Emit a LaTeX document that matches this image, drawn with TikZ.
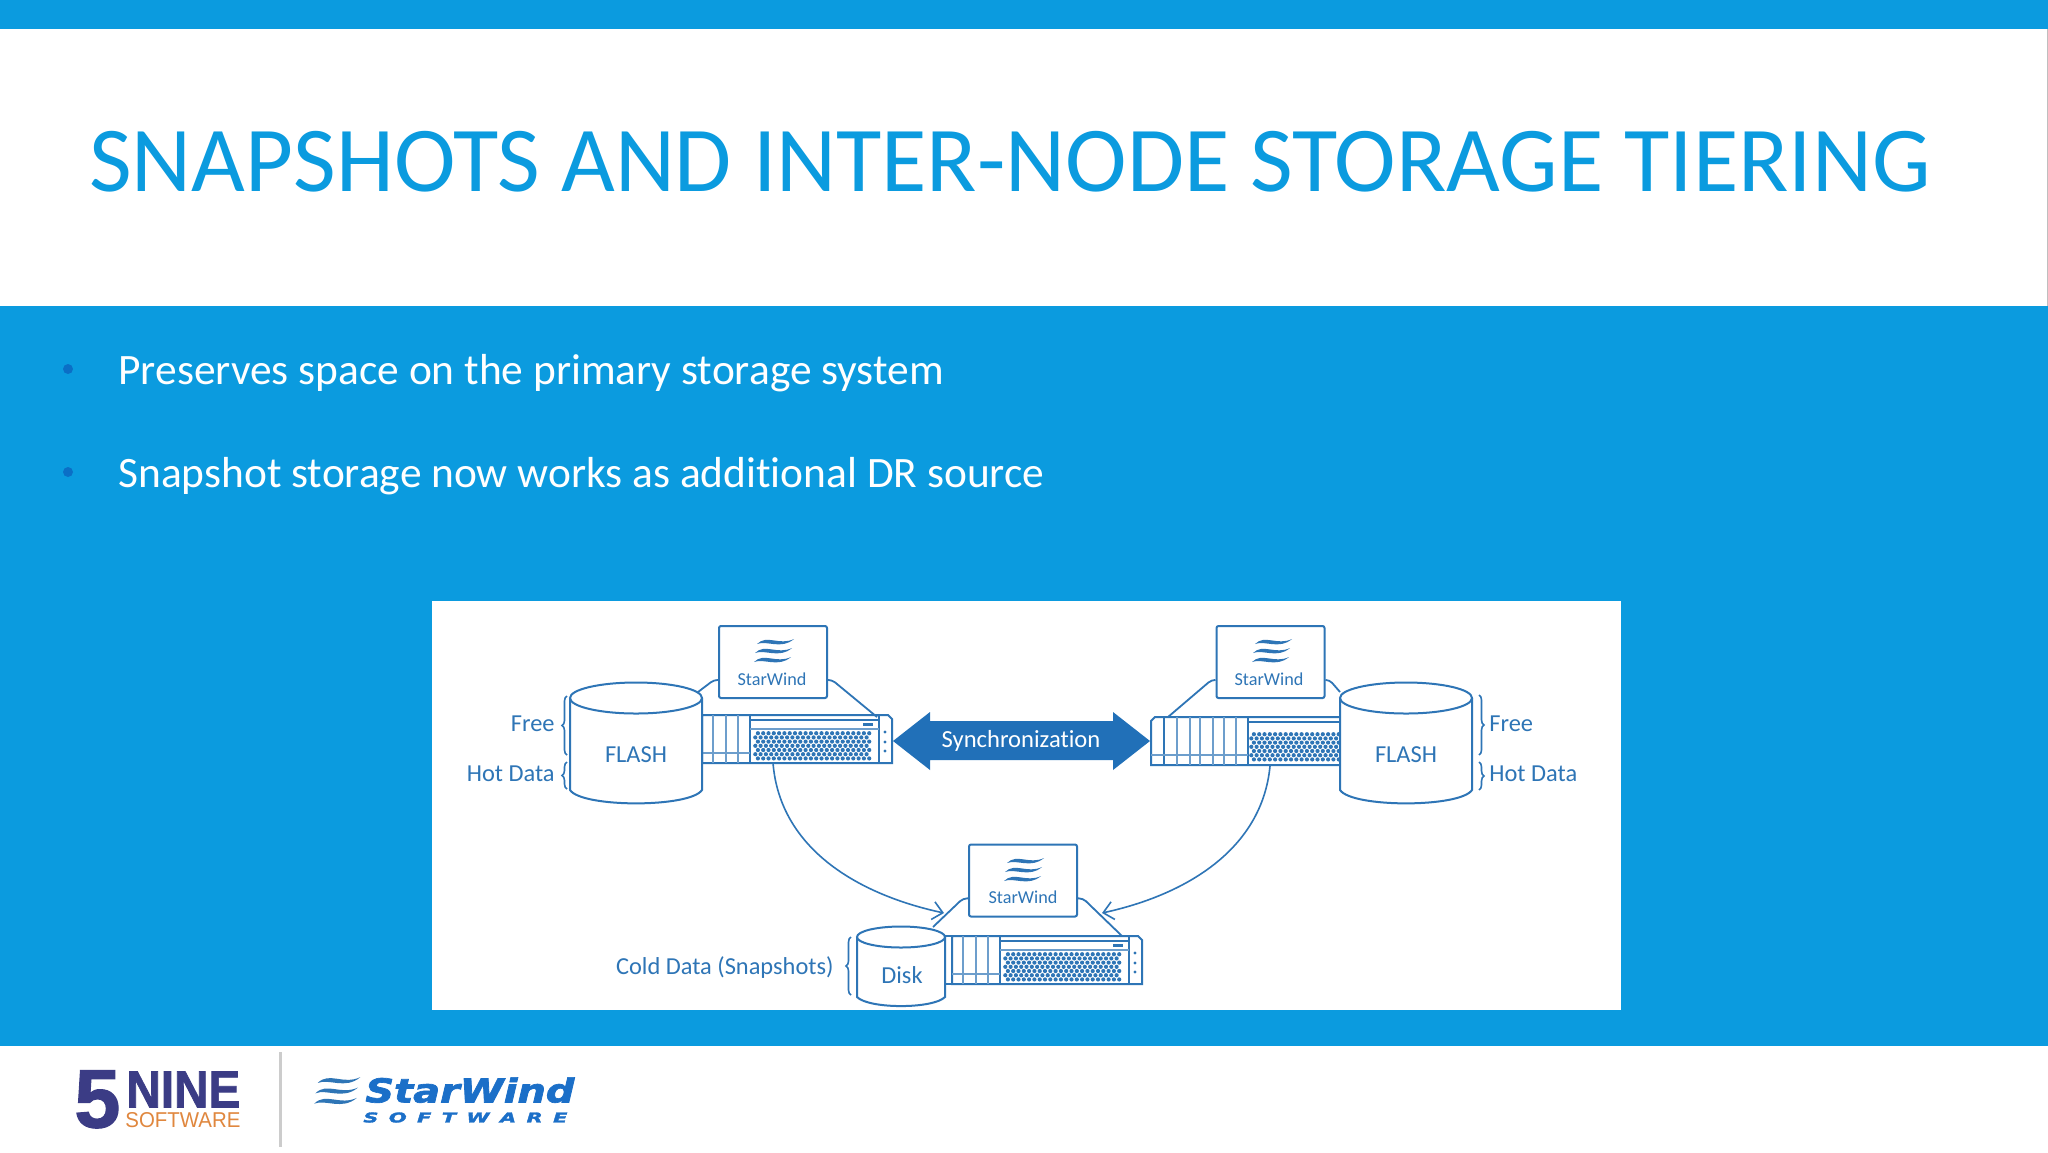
\documentclass[tikz,border=0pt]{standalone}
\usepackage{fontspec}
\setmainfont{Carlito}[Ligatures=NoCommon]
\newfontfamily\logosans{Liberation Sans}[BoldFeatures={FakeBold=1.5}]
\newfontfamily\logowide{DejaVu Sans}[BoldItalicFeatures={FakeBold=2}]
\usetikzlibrary{arrows.meta,calc,decorations.pathreplacing}

\definecolor{slideblue}{HTML}{0B9BDF}
\definecolor{bulletblue}{HTML}{0B6FC6}
\definecolor{diagblue}{HTML}{2E75B6}
\definecolor{syncblue}{HTML}{2170B8}
\definecolor{ninenavy}{HTML}{3B3C85}
\definecolor{nineorange}{HTML}{E0873E}
\definecolor{swblue}{HTML}{1B6FC8}

\tikzset{
	title text/.style={anchor=base west, text=slideblue, font=\fontsize{46.4}{50}\selectfont},
	body text/.style={anchor=base west, text=white, font=\fontsize{21.7}{25}\selectfont},
	diag text/.style={text=diagblue, inner sep=0pt, font=\fontsize{12.2}{14}\selectfont},
	bullet/.style={fill=bulletblue, draw=none},
	hw/.style={draw=diagblue, line width=1pt},
	hw thin/.style={draw=diagblue!70, line width=0.7pt},
	sw box/.style={draw=diagblue, line width=1pt, fill=white, rounded corners=1pt, minimum width=54pt, minimum height=36pt, inner sep=0pt},
	lead/.style={draw=diagblue, line width=0.9pt, rounded corners=2pt},
	flow/.style={draw=diagblue, line width=0.8pt, -{Straight Barb[length=5pt,width=9pt]}},
	curly/.style={draw=diagblue, line width=0.8pt, decorate, decoration={brace,amplitude=2.5pt}},
	pics/waves/.style={code={
		\foreach \wx/\wy in {3/0, 1/9, 0/18}
			\fill[diagblue] (\wx+2,\wy+6) .. controls (\wx+12,\wy-4) and (\wx+24,\wy+8) .. (\wx+39,\wy+1)
				.. controls (\wx+26,\wy+12) and (\wx+12,\wy+2) .. cycle;
	}},
	pics/server/.style={code={
		\draw[hw] (0,0) -- (186,0) -- (190,4) -- (190,48) -- (0,48) -- cycle;
		\draw[hw] (48,0) -- (48,48);
		\draw[hw] (177,0) -- (177,48);
		\draw[hw] (48,5) -- (177,5);
		\draw[hw thin] (48,14) -- (177,14);
		\draw[hw thin] (0,38) -- (48,38);
		\foreach \sx in {11,24,36}
			\draw[hw thin] (\sx,0) -- (\sx,48);
		\fill[diagblue] (161,8) rectangle (171,11);
		\foreach \dy in {17,27,36}
			\fill[diagblue] (183,\dy) circle [radius=1.7];
		\grille{48}{14}{22}{7}
	}},
}

% dotted front of a server
\newcommand{\grille}[4]{
	\foreach \gr in {1,...,#4}
		\foreach \gc in {1,...,#3}
			\fill[diagblue] ({#1+\gc*5.3+mod(\gr,2)*2.6},{#2+\gr*4.2}) circle [radius=2.1];
}

% storage drum: left, right, top centre, side bottom, top radius
\newcommand{\drum}[5]{
	\fill[white] (#1,#3) -- (#1,#4) .. controls (#1+12,#4+#5*1.15) and (#2-12,#4+#5*1.15) .. (#2,#4) -- (#2,#3) -- cycle;
	\draw[hw] (#1,#3) -- (#1,#4) .. controls (#1+12,#4+#5*1.15) and (#2-12,#4+#5*1.15) .. (#2,#4) -- (#2,#3);
	\draw[hw, fill=white] ({(#1+#2)/2},#3) ellipse [x radius={(#2-#1)/2}, y radius=#5];
}

\begin{document}
\begin{tikzpicture}[x=0.5pt, y=-0.5pt]
	\useasboundingbox (0,0) rectangle (2048,1152);

	% slide
	\fill[white] (0,0) rectangle (2048,1152);
	\fill[slideblue] (0,0) rectangle (2048,29);
	\fill[slideblue] (0,306) rectangle (2048,1046);
	\draw[gray!50, line width=0.5pt] (2047.5,29) -- (2047.5,306);

	\node[title text, inner sep=0pt] (title) at (89,191) {SNAPSHOTS AND INTER-NODE STORAGE TIERING};

	\fill[bullet] (68,369) circle [radius=5];
	\fill[bullet] (68,472) circle [radius=5];
	\node[body text, inner sep=0pt] (point1) at (118,384.5) {Preserves space on the primary storage system};
	\node[body text, inner sep=0pt] (point2) at (118,487.5) {Snapshot storage now works as additional DR source};

	% diagram
	\fill[white] (432,601) rectangle (1621,1010);

	\pic at (702,715) {server};
	\pic at (952,936) {server};
	\draw[hw] (945,936) -- (952,936);
	\draw[hw] (945,984) -- (952,984);

	% right server runs the other way
	\draw[hw] (1151,721) -- (1155,717) -- (1345,717) -- (1345,765) -- (1151,765) -- cycle;
	\draw[hw] (1164,717) -- (1164,765);
	\draw[hw] (1248,717) -- (1248,765);
	\draw[hw] (1248,722) -- (1345,722);
	\draw[hw thin] (1151,755) -- (1248,755);
	\foreach \sx in {1177,1190,1200,1213,1224,1236}
		\draw[hw thin] (\sx,717) -- (\sx,765);
	\grille{1246}{730}{17}{7}

	\drum{570}{702}{698}{790}{15.5}
	\drum{1340}{1472}{698}{790}{15.5}
	\drum{857}{945}{937}{997}{10.5}

	\node[diag text] (flashL) at (636,755) {FLASH};
	\node[diag text] (flashR) at (1406,755) {FLASH};
	\node[diag text] (disk) at (902,975) {Disk};

	\node[sw box] (boxL) at (773,662) {};
	\node[sw box] (boxR) at (1270.5,662) {};
	\node[sw box] (boxB) at (1023,880.5) {};
	\pic at (752,638) {waves};
	\pic at (1250,638) {waves};
	\pic at (1002,857) {waves};
	\node[diag text, font=\fontsize{9.1}{11}\selectfont] (swL) at (772,679) {StarWind};
	\node[diag text, font=\fontsize{9.1}{11}\selectfont] (swR) at (1269,679) {StarWind};
	\node[diag text, font=\fontsize{9.1}{11}\selectfont] (swB) at (1023,897) {StarWind};

	\coordinate (drumLtop) at (698,692);
	\coordinate (srvLtop) at (877,717);
	\coordinate (srvRtop) at (1168,717);
	\coordinate (drumRtop) at (1340,692);
	\coordinate (diskTop) at (933,927);
	\coordinate (srvBtop) at (1122,936);

	\draw[lead] (boxL.198) -- ++(-4,0) -- (drumLtop);
	\draw[lead] (boxL.-18) -- ++(4,0) -- (srvLtop);
	\draw[lead] (boxR.198) -- ++(-4,0) -- (srvRtop);
	\draw[lead] (boxR.-18) -- ++(4,0) -- (drumRtop);
	\draw[lead] (boxB.198) -- ++(-5,0) -- (diskTop);
	\draw[lead] (boxB.-18) -- ++(5,0) -- (srvBtop);

	% synchronization arrow
	\fill[syncblue] (893,741) -- (930,712) -- (930,721) -- (1113,721) -- (1113,712) -- (1150,741)
		-- (1113,770) -- (1113,760) -- (930,760) -- (930,770) -- cycle;
	\node[text=white, inner sep=0pt, font=\fontsize{12.3}{14}\selectfont] (sync) at (1021,741) {Synchronization};

	% tiering curves
	\coordinate (srvLout) at (773,763);
	\coordinate (srvRout) at (1270,766);
	\coordinate (srvBinL) at (944,913);
	\coordinate (srvBinR) at (1102,913);
	\draw[flow] (srvLout) .. controls (780,850) and (860,895) .. (srvBinL);
	\draw[flow] (srvRout) .. controls (1262,850) and (1185,895) .. (srvBinR);

	% labels with braces
	\coordinate (freeLa) at (567,755);
	\coordinate (freeLb) at (567,696);
	\coordinate (hotLa) at (567,789);
	\coordinate (hotLb) at (567,762);
	\coordinate (freeRa) at (1479,695);
	\coordinate (freeRb) at (1479,755);
	\coordinate (hotRa) at (1479,762);
	\coordinate (hotRb) at (1479,790);
	\coordinate (coldA) at (851,995);
	\coordinate (coldB) at (851,937);
	\draw[curly] (freeLa) -- (freeLb);
	\draw[curly] (hotLa) -- (hotLb);
	\draw[curly] (freeRa) -- (freeRb);
	\draw[curly] (hotRa) -- (hotRb);
	\draw[curly] (coldA) -- (coldB);

	\node[diag text, anchor=east] (freeLtxt) at (555,724) {Free};
	\node[diag text, anchor=east] (hotLtxt) at (555,774) {Hot Data};
	\node[diag text, anchor=west] (freeRtxt) at (1489,724) {Free};
	\node[diag text, anchor=west] (hotRtxt) at (1489,774) {Hot Data};
	\node[diag text, anchor=east] (coldtxt) at (834,968) {Cold Data (Snapshots)};

	% footer logos
	\draw[gray!40, line width=1.5pt] (280,1052) -- (280,1147);
	\node[anchor=north west, inner sep=0pt, text=ninenavy] (five) at (74,1070)
		{\resizebox{23pt}{28.5pt}{\logosans\bfseries 5}};
	\node[anchor=north west, inner sep=0pt, text=ninenavy] (nine) at (126,1071)
		{\resizebox{57pt}{18pt}{\logosans\bfseries NINE}};
	\node[anchor=north west, inner sep=0pt, text=nineorange] (ninesoft) at (125,1112)
		{\resizebox{57.5pt}{7.5pt}{\logosans SOFTWARE}};
	\pic[scale=1.15] at (312,1076) {waves};
	\node[anchor=north west, inner sep=0pt, text=swblue] (swlogo) at (365,1077)
		{\resizebox{104.5pt}{12.5pt}{\logowide\bfseries\itshape StarWind}};
	\node[anchor=north west, inner sep=0pt, text=swblue] (swsoft) at (363,1112)
		{\resizebox{102pt}{5pt}{\logowide\bfseries\itshape S\,\,\,O\,\,\,F\,\,\,T\,\,\,W\,\,\,A\,\,\,R\,\,\,E}};
\end{tikzpicture}
\end{document}
